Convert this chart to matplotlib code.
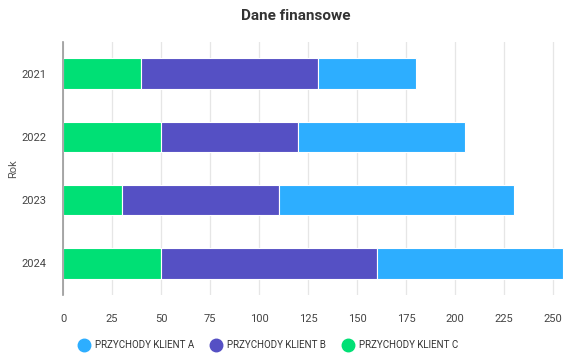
import numpy as np
import matplotlib.pyplot as plt
from matplotlib.lines import Line2D

plt.rcParams['font.family'] = ['Roboto', 'DejaVu Sans']

years = ['2021', '2022', '2023', '2024']
klient_c = [40, 50, 30, 50]
klient_b = [90, 70, 80, 110]
klient_a = [50, 85, 120, 95]
names = ['PRZYCHODY KLIENT A', 'PRZYCHODY KLIENT B', 'PRZYCHODY KLIENT C']
colours = ['#2DAEFF', '#5550C4', '#00E075']

fig = plt.figure(figsize=(5.85, 3.58), dpi=100)
ax = fig.add_axes([0.1077, 0.176, 0.858, 0.707])

y = np.arange(len(years))
c = np.array(klient_c)
b = np.array(klient_b)
a = np.array(klient_a)
h = 0.48
ax.barh(y, c, height=h, color=colours[2], edgecolor='white', linewidth=0.8)
ax.barh(y, b, left=c, height=h, color=colours[1], edgecolor='white', linewidth=0.8)
ax.barh(y, a, left=c + b, height=h, color=colours[0], edgecolor='white', linewidth=0.8)

ax.set_ylim(3.5, -0.5)
ax.set_xlim(0, 256)
ax.set_xticks(np.arange(0, 251, 25))
ax.set_yticks(y)
ax.set_yticklabels(years)
ax.grid(axis='x', color='#e6e6e6', linewidth=0.9)
ax.set_axisbelow(True)
for s in ['top', 'right', 'bottom']:
    ax.spines[s].set_visible(False)
ax.spines['left'].set_color('#999999')
ax.spines['left'].set_linewidth(1.2)
ax.tick_params(axis='both', length=0, labelsize=8, colors='#444444')
ax.tick_params(axis='x', pad=14)
ax.tick_params(axis='y', pad=12)
ax.set_ylabel('Rok', fontsize=8, color='#555555', labelpad=2)

fig.suptitle('Dane finansowe', x=0.505, y=0.975, fontsize=11, fontweight='bold', color='#333333')

handles = [Line2D([0], [0], linestyle='none', marker='o', markersize=9, color=col) for col in colours]
fig.legend(handles, names, loc='center', bbox_to_anchor=(0.455, 0.035), ncol=3, frameon=False,
           fontsize=7, handletextpad=0.1, columnspacing=1.3, labelcolor='#333333')

fig.savefig('out.png', dpi=100)
